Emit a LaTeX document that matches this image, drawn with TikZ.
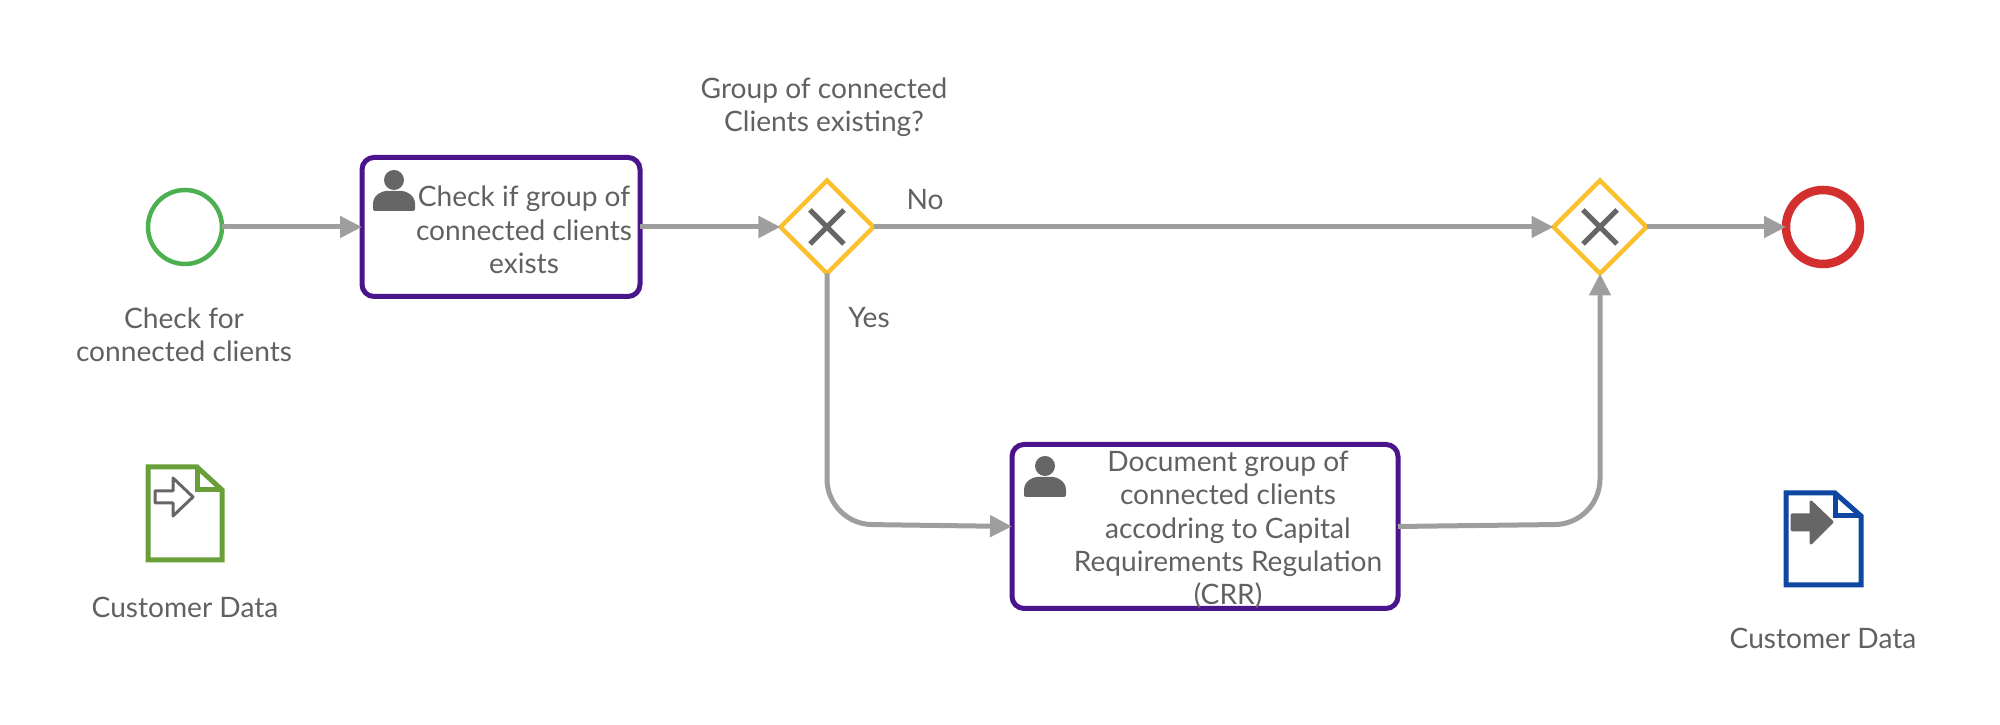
\documentclass[tikz,border=0pt]{standalone}
\usepackage{fontspec}
\setmainfont{Lato}
\usetikzlibrary{arrows.meta,shapes.geometric}
\definecolor{flowGray}{HTML}{9E9E9E}
\definecolor{labelGray}{HTML}{616161}
\definecolor{iconGray}{HTML}{666666}
\definecolor{startGreen}{HTML}{4CAF50}
\definecolor{endRed}{HTML}{D32F2F}
\definecolor{taskPurple}{HTML}{4A148C}
\definecolor{gateYellow}{HTML}{FBC02D}
\definecolor{inputGreen}{HTML}{689F38}
\definecolor{outputBlue}{HTML}{0D47A1}
\tikzset{
  flow/.style={draw=flowGray, line width=0.5mm, -{Triangle[length=2.2mm,width=2.1mm]}},
  lbl/.style={text=labelGray, align=center, inner sep=0pt, font=\fontsize{8}{9.5}\selectfont},
  startEvent/.style={circle, draw=startGreen, line width=0.45mm, minimum size=7.4mm, inner sep=0pt, outer sep=0pt},
  endEvent/.style={circle, draw=endRed, line width=0.85mm, minimum size=7.4mm, inner sep=0pt, outer sep=0pt},
  taskBox/.style={draw=taskPurple, line width=0.5mm, rounded corners=1.2mm, inner sep=0pt, outer sep=0pt},
  gateway/.style={diamond, aspect=1, draw=gateYellow, line width=0.45mm, minimum size=9.3mm, inner sep=0pt, outer sep=0pt,
    path picture={\draw[iconGray, line width=0.5mm]
      ([shift={(-1.7mm,-1.7mm)}]path picture bounding box.center) -- ([shift={(1.7mm,1.7mm)}]path picture bounding box.center)
      ([shift={(-1.7mm,1.7mm)}]path picture bounding box.center) -- ([shift={(1.7mm,-1.7mm)}]path picture bounding box.center);}},
  person/.pic={
    \fill[iconGray] (0,-31) circle (10);
    \fill[iconGray, rounded corners=0.2mm] (-21,0) -- (-21,-5) .. controls (-21,-16) and (-12,-20) .. (-6,-20)
      -- (6,-20) .. controls (12,-20) and (21,-16) .. (21,-5) -- (21,0) -- cycle;
  },
  docLine/.style={line width=0.5mm, miter limit=4},
  docArrow/.style={draw=iconGray, line width=0.3mm, line join=round},
}
\begin{document}
\begin{tikzpicture}[x=0.1mm, y=-0.1mm]
  \useasboundingbox (0,0) rectangle (2000,725);

  \node[startEvent] (startCheck) at (185,227) {};
  \node[taskBox, minimum width=27.8mm, minimum height=13.9mm] (taskCheck) at (501,227) {};
  \node[gateway] (gateSplit) at (827,227) {};
  \node[gateway] (gateJoin) at (1600,227) {};
  \node[endEvent] (endCheck) at (1823,227) {};
  \node[taskBox, minimum width=38.6mm, minimum height=16.4mm] (taskDoc) at (1205,526.5) {};
  \coordinate (bendYes) at (827,524);
  \coordinate (bendNo) at (1600,524);

  \pic at (394,211) {person};
  \pic at (1045,497) {person};

  \node[lbl] (startText) at (184,335) {Check for\\connected clients};
  \node[lbl] (taskCheckText) at (524,230) {Check if group of\\connected clients\\exists};
  \node[lbl] (taskDocText) at (1228,530) {Document group of\\connected clients\\accodring to Capital\\Requirements Regulation\\(CRR)};
  \node[lbl] (gateText) at (824,107) {Group of connected\\Clients existing?};
  \node[lbl] (noText) at (925,200) {No};
  \node[lbl] (yesText) at (869,318) {Yes};
  \node[lbl] (inputText) at (185,607) {Customer Data};
  \node[lbl] (outputText) at (1823,638) {Customer Data};

  \draw[flow] (startCheck) -- (taskCheck);
  \draw[flow] (taskCheck) -- (gateSplit);
  \draw[flow] (gateSplit) -- (gateJoin);
  \draw[flow] (gateJoin) -- (endCheck);
  \draw[flow, rounded corners=4.5mm] (gateSplit.south) -- (bendYes) -- (taskDoc.west);
  \draw[flow, rounded corners=4.5mm] (taskDoc.east) -- (bendNo) -- (gateJoin.south);

  \draw[inputGreen, docLine] (148,467) -- (197,467) -- (222,490) -- (222,560) -- (148,560) -- cycle;
  \draw[inputGreen, docLine] (197,467) -- (197,490) -- (222,490);
  \draw[docArrow] (155,491) -- (173,491) -- (173,478) -- (193,497) -- (173,516) -- (173,503) -- (155,503) -- cycle;

  \draw[outputBlue, docLine] (1786,493) -- (1835,493) -- (1861,516) -- (1861,585) -- (1786,585) -- cycle;
  \draw[outputBlue, docLine] (1835,493) -- (1835,516) -- (1861,516);
  \draw[docArrow, fill=iconGray] (1792,515) -- (1811,515) -- (1811,502) -- (1832,522) -- (1811,543) -- (1811,530) -- (1792,530) -- cycle;
\end{tikzpicture}
\end{document}
